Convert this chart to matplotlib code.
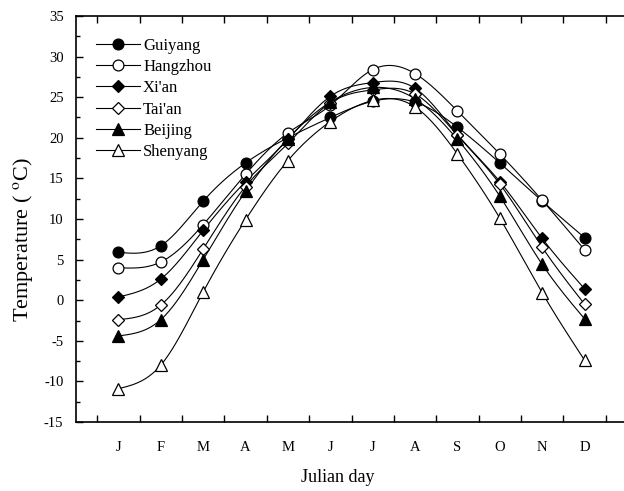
import numpy as np
import matplotlib
matplotlib.use("Agg")
import matplotlib.pyplot as plt
from matplotlib.lines import Line2D
from matplotlib.ticker import MultipleLocator, FixedLocator

plt.rcParams['font.family'] = ['Liberation Serif', 'DejaVu Serif']
plt.rcParams['mathtext.fontset'] = 'stix'
plt.rcParams['axes.unicode_minus'] = False

months = ["J", "F", "M", "A", "M", "J", "J", "A", "S", "O", "N", "D"]

guiyang = [5.9, 6.7, 12.2, 16.9, 20.0, 22.5, 24.5, 24.4, 21.3, 16.9, 12.2, 7.7]
hangzhou = [4.0, 4.7, 9.3, 15.5, 20.6, 24.0, 28.4, 27.9, 23.3, 18.0, 12.3, 6.2]
xian = [0.4, 2.6, 8.6, 14.6, 19.8, 25.1, 26.8, 26.1, 20.4, 14.6, 7.6, 1.4]
taian = [-2.4, -0.6, 6.3, 14.0, 19.3, 24.3, 25.9, 25.4, 20.3, 14.3, 6.5, -0.5]
beijing = [-4.4, -2.4, 5.0, 13.4, 19.9, 24.4, 26.2, 24.8, 19.8, 12.8, 4.4, -2.3]
shenyang = [-10.9, -8.0, 1.0, 9.9, 17.2, 22.0, 24.6, 23.8, 18.0, 10.1, 0.9, -7.4]

series = [
    ("Guiyang", guiyang, "o", "black"),
    ("Hangzhou", hangzhou, "o", "white"),
    ("Xi'an", xian, "D", "black"),
    ("Tai'an", taian, "D", "white"),
    ("Beijing", beijing, "^", "black"),
    ("Shenyang", shenyang, "^", "white"),
]


def natural_spline(x, y, n=400):
    """Natural cubic spline through (x, y), evaluated on a fine grid."""
    x = np.asarray(x, float)
    y = np.asarray(y, float)
    k = len(x)
    h = np.diff(x)
    A = np.zeros((k, k))
    b = np.zeros(k)
    A[0, 0] = A[-1, -1] = 1.0
    for i in range(1, k - 1):
        A[i, i - 1] = h[i - 1]
        A[i, i] = 2 * (h[i - 1] + h[i])
        A[i, i + 1] = h[i]
        b[i] = 3 * ((y[i + 1] - y[i]) / h[i] - (y[i] - y[i - 1]) / h[i - 1])
    c = np.linalg.solve(A, b)
    xs = np.linspace(x[0], x[-1], n)
    idx = np.clip(np.searchsorted(x, xs) - 1, 0, k - 2)
    dx = xs - x[idx]
    bb = (y[idx + 1] - y[idx]) / h[idx] - h[idx] * (2 * c[idx] + c[idx + 1]) / 3
    dd = (c[idx + 1] - c[idx]) / (3 * h[idx])
    ys = y[idx] + bb * dx + c[idx] * dx ** 2 + dd * dx ** 3
    return xs, ys


fig = plt.figure(figsize=(6.24, 4.91), dpi=100)
ax = fig.add_axes([76 / 624, 69 / 491, 551 / 624, 406 / 491])

x = np.arange(1, 13)
msize = {"o": 7.8, "D": 6.6, "^": 8.0}
handles = []
for name, vals, mk, fc in series:
    xs, ys = natural_spline(x, vals)
    ax.plot(xs, ys, color="black", lw=0.8, zorder=2)
    ax.plot(x, vals, ls="none", marker=mk, ms=msize[mk], mfc=fc,
            mec="black", mew=0.9, zorder=3)
    handles.append(Line2D([], [], color="black", lw=0.8, marker=mk,
                          ms=msize[mk], mfc=fc, mec="black", mew=0.9,
                          label=name))

ax.set_xlim(0, 13)
ax.set_ylim(-15, 35)
ax.xaxis.set_major_locator(FixedLocator(np.arange(0.5, 13, 1.0)))
ax.xaxis.set_minor_locator(FixedLocator(x))
ax.set_xticklabels([], minor=False)
ax.set_xticklabels(months, minor=True)
ax.tick_params(axis="x", which="major", direction="in", length=5, width=1,
               top=True, bottom=True)
ax.tick_params(axis="x", which="minor", length=0, pad=14, labelsize=10.5)
ax.yaxis.set_major_locator(MultipleLocator(5))
ax.yaxis.set_minor_locator(MultipleLocator(2.5))
ax.tick_params(axis="y", which="major", direction="in", length=5, width=1,
               labelsize=10.5, pad=9)
ax.tick_params(axis="y", which="minor", direction="in", length=3, width=1)
for s in ax.spines.values():
    s.set_linewidth(1.2)

ax.set_ylabel("Temperature ( $^{\\mathrm{o}}$C)", fontsize=16)
ax.yaxis.set_label_coords(-0.074, 0.45)
ax.set_xlabel("Julian day", fontsize=13)
ax.xaxis.set_label_coords(0.4745, -0.115)

ax.legend(handles=handles, loc="upper left", bbox_to_anchor=(0.037, 0.947),
          frameon=False, fontsize=12, handlelength=2.6, handletextpad=0.2,
          labelspacing=0.32, borderaxespad=0, borderpad=0)

fig.savefig("out.png", dpi=100)
